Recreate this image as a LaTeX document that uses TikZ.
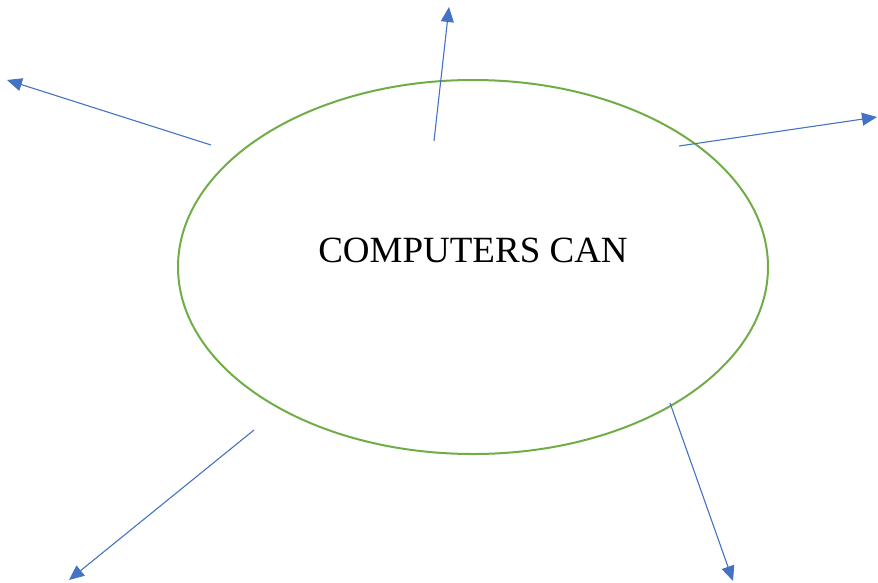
\documentclass[tikz,border=0pt]{standalone}
\usepackage{fontspec}
\setmainfont{Liberation Serif}
\usetikzlibrary{arrows.meta,shapes.geometric}
\definecolor{ogreen}{HTML}{70AD47}
\definecolor{oblue}{HTML}{4472C4}
\tikzset{
  bubble/.style={ellipse, draw=ogreen, line width=2pt, minimum width=590pt, minimum height=374pt, inner sep=0pt},
  ray/.style={draw=oblue, line width=1.1pt, -{Triangle[length=15pt,width=13pt]}},
  label/.style={font=\fontsize{37}{42}\selectfont, inner sep=0pt}
}
\begin{document}
\begin{tikzpicture}[x=1pt,y=-1pt]
\useasboundingbox (0,0) rectangle (878,582);
\node[bubble] (e) at (473,267) {};
\node[label] (t) at (473,250) {COMPUTERS CAN};
\coordinate (s1) at (211,145); \coordinate (t1) at (7,80);
\coordinate (s2) at (434,141); \coordinate (t2) at (449,7);
\coordinate (s3) at (679,146); \coordinate (t3) at (877,117);
\coordinate (s4) at (254,430); \coordinate (t4) at (69,580);
\coordinate (s5) at (670,403); \coordinate (t5) at (733,581);
\draw[ray] (s1) -- (t1);
\draw[ray] (s2) -- (t2);
\draw[ray] (s3) -- (t3);
\draw[ray] (s4) -- (t4);
\draw[ray] (s5) -- (t5);
\end{tikzpicture}
\end{document}
